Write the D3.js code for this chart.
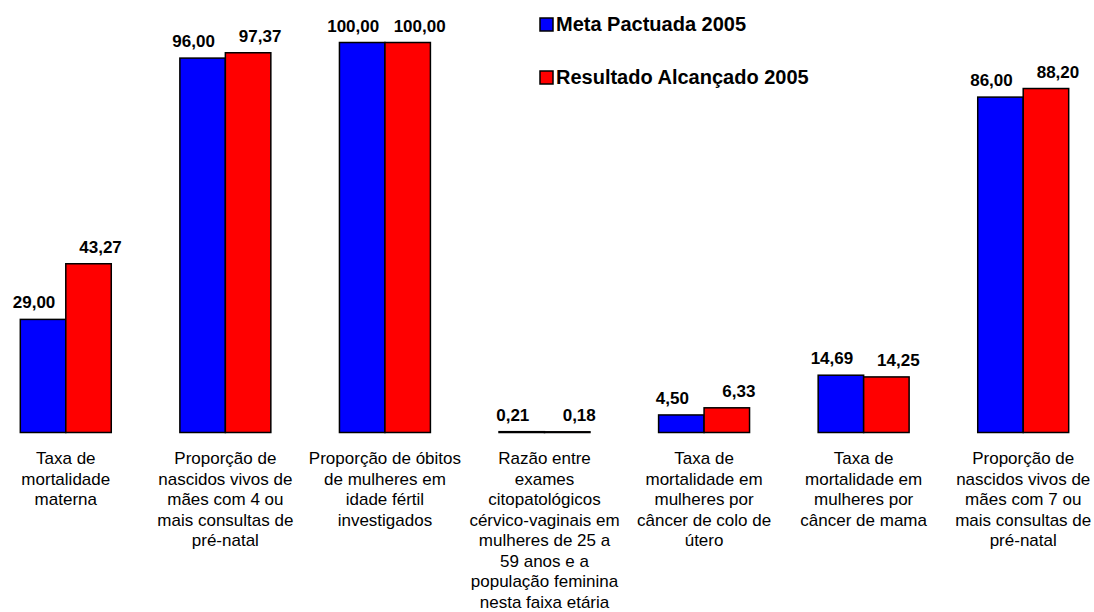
<!DOCTYPE html>
<html>
<head>
<meta charset="utf-8">
<script src="https://cdn.jsdelivr.net/npm/d3@7"></script>
<style>
  body { margin: 0; background: #fff; }
  svg { display: block; font-family: Arial, "Liberation Sans", sans-serif; }
</style>
</head>
<body>
<svg class="chart" width="1094" height="612"></svg>
<script>
// categories, one string per line of the label under each group
const categories = [
  "Taxa de\nmortalidade\nmaterna",
  "Proporção de\nnascidos vivos de\nmães com 4 ou\nmais consultas de\npré-natal",
  "Proporção de óbitos\nde mulheres em\nidade fértil\ninvestigados",
  "Razão entre\nexames\ncitopatológicos\ncérvico-vaginais em\nmulheres de 25 a\n59 anos e a\npopulação feminina\nnesta faixa etária",
  "Taxa de\nmortalidade em\nmulheres por\ncâncer de colo de\nútero",
  "Taxa de\nmortalidade em\nmulheres por\ncâncer de mama",
  "Proporção de\nnascidos vivos de\nmães com 7 ou\nmais consultas de\npré-natal"
];

const seriesNames = ["Meta Pactuada 2005", "Resultado Alcançado 2005"];
const metaValues = [29.00, 96.00, 100.00, 0.21, 4.50, 14.69, 86.00];
const resultadoValues = [43.27, 97.37, 100.00, 0.18, 6.33, 14.25, 88.20];
const colors = ["#0000ff", "#ff0000"];

const svg = d3.select(".chart");

const data = categories.map((c, i) => ({
  cat: c,
  vals: [metaValues[i], resultadoValues[i]]
}));

// outer band scale for the groups
const x = d3.scaleBand()
  .domain(categories)
  .range([-14, 1103])
  .paddingInner(0.43)
  .paddingOuter(0.215);

// inner scale for the two series
const x1 = d3.scaleBand()
  .domain([0, 1])
  .range([0, x.bandwidth()]);

const y = d3.scaleLinear()
  .domain([0, 100])
  .range([432.5, 42.5]);

const groups = svg.selectAll("g.group")
  .data(data)
  .join("g")
  .attr("class", "group")
  .attr("transform", d => `translate(${x(d.cat)},0)`);

groups.selectAll("rect")
  .data(d => d.vals.map((v, s) => ({ v, s })))
  .join("rect")
  .attr("x", d => x1(d.s))
  .attr("y", d => y(d.v))
  .attr("width", x1.bandwidth())
  .attr("height", d => y(0) - y(d.v))
  .attr("fill", d => colors[d.s])
  .attr("stroke", "#000")
  .attr("stroke-width", 1.5);

// value labels, nudged apart a little like the original
const labelShift = [-9, 12];
groups.selectAll("text.value")
  .data(d => d.vals.map((v, s) => ({ v, s })))
  .join("text")
  .attr("class", "value")
  .attr("x", d => x1(d.s) + x1.bandwidth() / 2 + labelShift[d.s])
  .attr("y", d => y(d.v) - 11)
  .attr("text-anchor", "middle")
  .attr("font-size", 17)
  .attr("font-weight", "bold")
  .text(d => d3.format(".2f")(d.v).replace(".", ","));

// category labels
const lineHeight = 20.5;
groups.append("text")
  .attr("class", "cat")
  .attr("text-anchor", "middle")
  .attr("font-size", 17)
  .attr("fill", "#000")
  .selectAll("tspan")
  .data(d => d.cat.split("\n"))
  .join("tspan")
  .attr("x", x.bandwidth() / 2)
  .attr("y", (d, i) => 464 + i * lineHeight)
  .text(d => d);

// legend
const legend = svg.append("g")
  .attr("transform", "translate(540,0)");

const items = legend.selectAll("g")
  .data(seriesNames)
  .join("g")
  .attr("transform", (d, i) => `translate(0,${31 + i * 53})`);

items.append("rect")
  .attr("x", 0)
  .attr("y", -13)
  .attr("width", 13)
  .attr("height", 13)
  .attr("fill", (d, i) => colors[i])
  .attr("stroke", "#000")
  .attr("stroke-width", 1.5);

items.append("text")
  .attr("x", 16)
  .attr("y", 0)
  .attr("font-size", 20)
  .attr("font-weight", "bold")
  .text(d => d);
</script>
</body>
</html>
